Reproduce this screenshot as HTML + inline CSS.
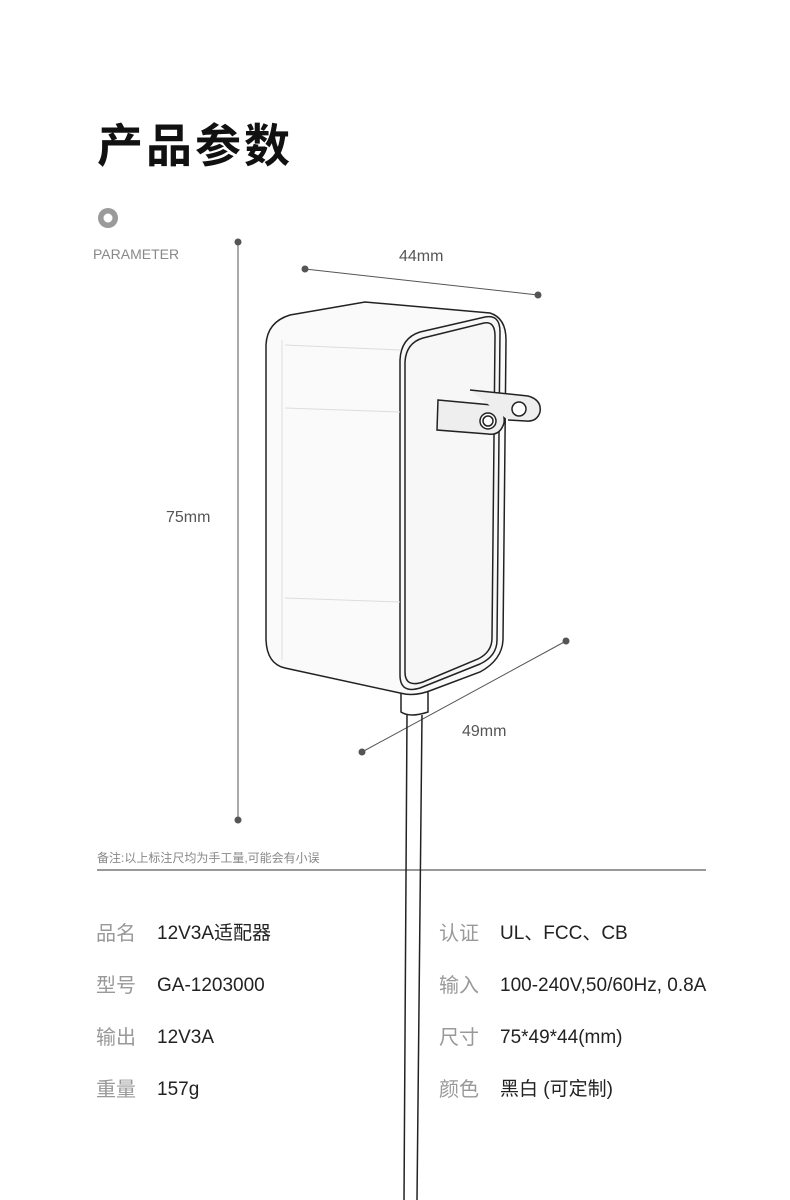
<!DOCTYPE html>
<html><head><meta charset="utf-8"><style>
body{margin:0;background:#fff}
.p{position:relative;width:790px;height:1200px;overflow:hidden;background:#fff;font-family:"Liberation Sans","Noto Sans CJK SC",sans-serif}
.t{position:absolute;white-space:nowrap}
</style></head><body><div class="p">
<svg width="790" height="1200" style="position:absolute;left:0;top:0">
<circle cx="108" cy="218" r="10" fill="#9a9a9a"/><circle cx="108" cy="218" r="4.5" fill="#fff"/>
<g stroke="#555" stroke-width="1" fill="#555">
<line x1="238" y1="242" x2="238" y2="820"/><circle cx="238" cy="242" r="3"/><circle cx="238" cy="820" r="3"/>
<line x1="305" y1="269" x2="538" y2="295"/><circle cx="305" cy="269" r="3"/><circle cx="538" cy="295" r="3"/>
<line x1="362" y1="752" x2="566" y2="641"/><circle cx="362" cy="752" r="3"/><circle cx="566" cy="641" r="3"/>
</g>
<line x1="97" y1="870" x2="706" y2="870" stroke="#999" stroke-width="2"/>
<g fill="none" stroke="#222" stroke-width="1.5">
<path d="M407 715 L404 1200 M422 715 L417 1200"/>
<path d="M401 690 L401 712 Q410 718 428 712 L428 685"/>
<path d="M290 315 L365 302 L490 313 Q506 318 506 340 L503 640 Q502 660 480 672 L432 690 Q415 697 400 693 L285 668 Q267 664 266 640 L266 345 Q267 322 290 315 Z" fill="#fafafa"/>
<path d="M420 332 L485 317 Q500 314 500 332 L497 640 Q497 656 480 664 L420 688 Q400 694 400 675 L400 360 Q401 338 420 332 Z" fill="#f7f7f7"/>
<path d="M423 338 L484 323 Q495 321 495 336 L492 638 Q492 652 478 659 L423 682 Q405 688 405 672 L405 362 Q406 343 423 338 Z"/>
<path d="M438 400 L492 405 Q506 410 504 423 Q500 436 488 434 L437 430 Z" fill="#eee"/>
<circle cx="488" cy="421" r="8" fill="#fff"/><circle cx="488" cy="421" r="5"/>
<path d="M470 390 L528 396 Q542 400 540 412 Q537 422 526 421 L508 420" fill="#eee"/>
<circle cx="519" cy="409" r="7" fill="#fff"/>
</g>
<g stroke="#ddd" fill="none"><path d="M285 345 L400 350 M285 408 L400 412 M285 598 L400 602 M282 340 L282 660"/></g>
</svg>
<div class="t" style="left:97px;top:110px;font-size:46px;font-weight:bold;color:#111;letter-spacing:3px">产品参数</div>
<div class="t" style="left:93px;top:246px;font-size:14px;color:#888">PARAMETER</div>
<div class="t" style="left:399px;top:248px;font-size:16px;color:#555">44mm</div>
<div class="t" style="left:166px;top:509px;font-size:16px;color:#555">75mm</div>
<div class="t" style="left:462px;top:723px;font-size:16px;color:#555">49mm</div>
<div class="t" style="left:97px;top:849px;font-size:12px;color:#888">备注:以上标注尺均为手工量,可能会有小误</div>
<div class="t" style="left:96px;top:921px;font-size:20px;color:#999;line-height:26px">品名<br><br>型号<br><br>输出<br><br>重量</div>
<div class="t" style="left:157px;top:921px;font-size:19px;color:#222;line-height:26px">12V3A适配器<br><br>GA-1203000<br><br>12V3A<br><br>157g</div>
<div class="t" style="left:439px;top:921px;font-size:20px;color:#999;line-height:26px">认证<br><br>输入<br><br>尺寸<br><br>颜色</div>
<div class="t" style="left:500px;top:921px;font-size:19px;color:#222;line-height:26px">UL、FCC、CB<br><br>100-240V,50/60Hz, 0.8A<br><br>75*49*44(mm)<br><br>黑白 (可定制)</div>
</div></body></html>
